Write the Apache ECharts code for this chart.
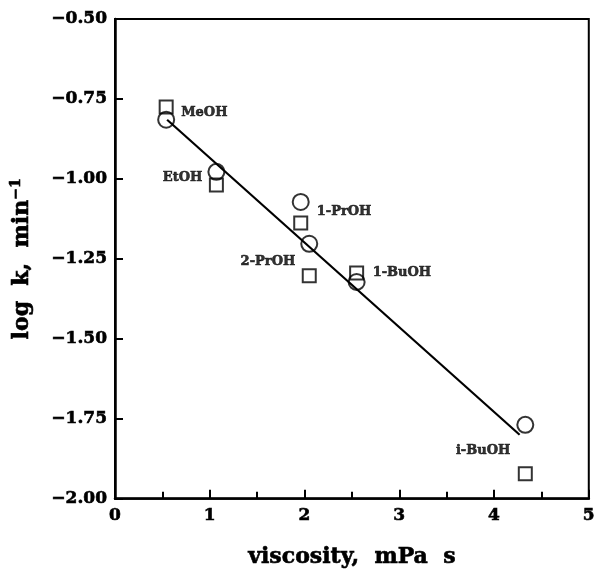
<!DOCTYPE html>
<html>
<head>
<meta charset="utf-8">
<script src="https://cdn.jsdelivr.net/npm/echarts@6/dist/echarts.min.js"></script>
<style>
html,body{margin:0;padding:0;background:#fff;}
#main{width:598px;height:574px;}
</style>
</head>
<body>
<div id="main"></div>
<script>
// solvents and measured points (viscosity, log k)
var solvents = ['MeOH', 'EtOH', '1-PrOH', '2-PrOH', '1-BuOH', 'i-BuOH'];
var viscosity = [0.54, 1.07, 1.96, 2.05, 2.55, 4.33];
var logkCircle = [-0.815, -0.978, -1.072, -1.203, -1.322, -1.769];
var logkSquare = [-0.775, -1.019, -1.138, -1.303, -1.294, -1.922];
// fitted straight line
var fitX = [0.55, 4.27];
var fitY = [-0.815, -1.80];

var labelPos = {
	'MeOH':   {position:'right', offset:[1, -7]},
	'EtOH':   {position:'left',  offset:[0, 6]},
	'1-PrOH': {position:'right', offset:[2, 10]},
	'2-PrOH': {position:'left',  offset:[0, 18]},
	'1-BuOH': {position:'right', offset:[2, -9]},
	'i-BuOH': {position:'left',  offset:[-1, 26]}
};

var font = 'DejaVu Serif';
// heavy print look
var ink = {color: '#000', textBorderColor: '#000', textBorderWidth: 0.6};

var circleData = [], squareData = [], fitData = [];
for (var i = 0; i < solvents.length; i++) {
	var lp = labelPos[solvents[i]];
	circleData.push({
		value: [viscosity[i], logkCircle[i]],
		label: Object.assign({
			show: true,
			formatter: solvents[i],
			position: lp.position,
			offset: lp.offset,
			distance: 5,
			fontFamily: font,
			fontWeight: 'bold',
			fontSize: 13
		}, ink)
	});
	squareData.push([viscosity[i], logkSquare[i]]);
}
for (var j = 0; j < fitX.length; j++) {
	fitData.push([fitX[j], fitY[j]]);
}

function minus(v) {
	return String(v).replace('-', '\u2212');
}

var option = {
	animation: false,
	backgroundColor: '#fff',
	grid: {
		left: 115, top: 19, right: 8, bottom: 75,
		show: true, borderColor: '#000', borderWidth: 2, backgroundColor: 'transparent'
	},
	xAxis: {
		type: 'value',
		min: 0, max: 5, interval: 1,
		name: 'viscosity,  mPa  s',
		nameLocation: 'middle',
		nameGap: 48,
		nameTextStyle: Object.assign({fontFamily: font, fontWeight: 'bold', fontSize: 22}, ink),
		axisLine: {show: true, onZero: false, lineStyle: {color: '#000', width: 2.5}},
		axisTick: {show: true, inside: true, length: 9, lineStyle: {color: '#000', width: 2}},
		minorTick: {show: true, splitNumber: 2, length: 7, lineStyle: {color: '#000', width: 2}},
		splitLine: {show: false},
		axisLabel: Object.assign({fontFamily: font, fontWeight: 'bold', fontSize: 17, margin: 8}, ink)
	},
	yAxis: {
		type: 'value',
		min: -2, max: -0.5, interval: 0.25,
		name: '{a|log  k,  min}{s|\u22121}',
		nameLocation: 'middle',
		nameGap: 80,
		nameRotate: 90,
		nameTextStyle: {
			rich: {
				a: Object.assign({fontFamily: font, fontWeight: 'bold', fontSize: 22}, ink),
				s: Object.assign({fontFamily: font, fontWeight: 'bold', fontSize: 14, verticalAlign: 'top', padding: [0, 0, 12, 0]}, ink)
			}
		},
		axisLine: {show: true, onZero: false, lineStyle: {color: '#000', width: 2.5}},
		axisTick: {show: true, inside: true, length: 8, lineStyle: {color: '#000', width: 2}},
		splitLine: {show: false},
		axisLabel: Object.assign({
			fontFamily: font, fontWeight: 'bold', fontSize: 17, margin: 8,
			formatter: function (v) { return minus(v.toFixed(2)); }
		}, ink)
	},
	series: [
		{
			name: 'fit',
			type: 'line',
			data: fitData,
			showSymbol: false,
			symbol: 'none',
			lineStyle: {color: '#000', width: 2.2},
			z: 1
		},
		{
			name: 'square',
			type: 'scatter',
			data: squareData,
			symbol: 'rect',
			symbolSize: 13,
			itemStyle: {color: 'transparent', borderColor: '#000', borderWidth: 2},
			z: 2
		},
		{
			name: 'circle',
			type: 'scatter',
			data: circleData,
			symbol: 'circle',
			symbolSize: 16,
			itemStyle: {color: 'transparent', borderColor: '#000', borderWidth: 2},
			z: 3
		}
	]
};

var mychart = echarts.init(document.getElementById('main'));
mychart.setOption(option);
</script>
</body>
</html>
